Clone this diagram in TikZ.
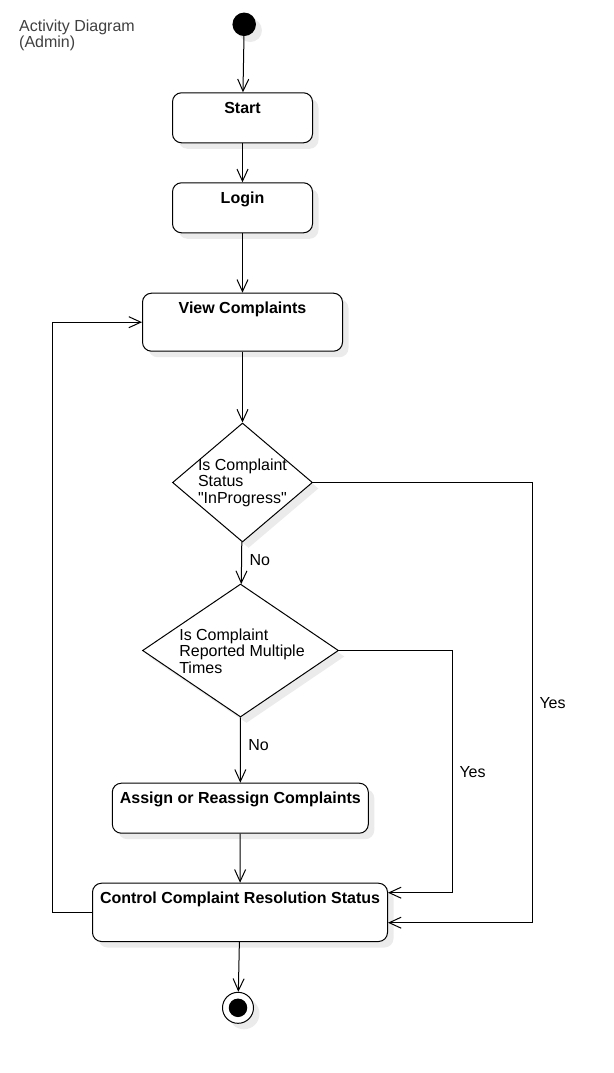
\documentclass[tikz,border=0pt]{standalone}
\usepackage{fontspec}
\setmainfont{Liberation Sans}[Ligatures=TeXOff]
\usetikzlibrary{arrows.meta,shapes.geometric,shadows}
\definecolor{titlegray}{HTML}{404040}
\tikzstyle{flow}=[line width=1pt,-{Straight Barb[length=12pt,width=11pt]}]

\begin{document}
\begin{tikzpicture}[x=1pt,y=-1pt,
    font=\fontsize{16pt}{16.5pt}\selectfont,
    soft/.style={drop shadow={shadow xshift=6pt,shadow yshift=-6pt,fill=black!8,opacity=1}},
    act/.style={draw,line width=1pt,rounded corners=9pt,fill=white,soft,anchor=north,
      font=\fontsize{16pt}{16.5pt}\selectfont\bfseries,inner xsep=4pt,inner ysep=0pt,
      text height=20.5pt},
    dec/.style={diamond,draw,line width=1pt,fill=white,soft,inner sep=0pt},
    dectext/.style={align=left,inner sep=0pt},
    lbl/.style={anchor=west,inner sep=0pt}
    ]
    \useasboundingbox (0,0) rectangle (613,1073);

    % title
    \node[anchor=north west,align=left,inner sep=0pt,text=titlegray,
      font=\fontsize{16pt}{16pt}\selectfont] (title) at (19,19.3) {Activity Diagram\\(Admin)};

    % initial node
    \node[circle,fill=black,minimum size=23.5pt,inner sep=0pt,soft] (init) at (244.2,24.3) {};

    % activities
    \node[act,minimum width=140pt,text depth=29.5pt] (start) at (242.5,92.3) {Start};
    \node[act,minimum width=140pt,text depth=29.5pt] (login) at (242.5,182.3) {Login};
    \node[act,minimum width=200pt,text depth=37.5pt] (view) at (242.5,292.7) {View Complaints};

    % decisions
    \node[dec,minimum width=140pt,minimum height=119pt] (inprog) at (242.5,482.5) {};
    \node[dectext] (inprogtxt) at (242.5,482.5) {Is Complaint\\Status\\"InProgress"};
    \node[dec,minimum width=196pt,minimum height=133pt] (multi) at (240.5,650.5) {};
    \node[dectext] (multitxt) at (242,651) {Is Complaint\\Reported Multiple\\Times};

    \node[act,minimum width=256pt,text depth=29.5pt] (assign) at (240.3,782.7) {Assign or Reassign Complaints};
    \node[act,minimum width=295pt,text depth=37.8pt] (ctrl) at (240,882.7) {Control Complaint Resolution Status};

    % final node
    \node[circle,draw,line width=1pt,fill=white,minimum size=31pt,inner sep=0pt,soft] (final) at (238,1007.8) {};
    \node[circle,fill=black,minimum size=18.5pt,inner sep=0pt] (finaldot) at (final) {};

    % bends
    \coordinate (yesa) at (452.7,892.7);
    \coordinate (yesb) at (532.7,922.7);
    \coordinate (back) at (52.7,0);

    % flows
    \draw[flow] (init) -- (start);
    \draw[flow] (start) -- (login);
    \draw[flow] (login) -- (view);
    \draw[flow] (view) -- (inprog);
    \draw[flow] (inprog) -- node[lbl,pos=0.42,xshift=7.5pt] {No} (multi);
    \draw[flow] (multi) -- node[lbl,pos=0.42,xshift=7.5pt] {No} (assign);
    \draw[flow] (assign) -- (ctrl);
    \draw[flow] (ctrl) -- (final);
    \draw[flow] (multi.east) -| node[lbl,pos=0.75,xshift=6.3pt] {Yes} (yesa) -- (yesa -| ctrl.east);
    \draw[flow] (inprog.east) -| node[lbl,pos=0.75,xshift=6.3pt] {Yes} (yesb) -- (yesb -| ctrl.east);
    \draw[flow] (ctrl.west) -- (ctrl.west -| back) |- (view.west);

  \end{tikzpicture}
\end{document}
